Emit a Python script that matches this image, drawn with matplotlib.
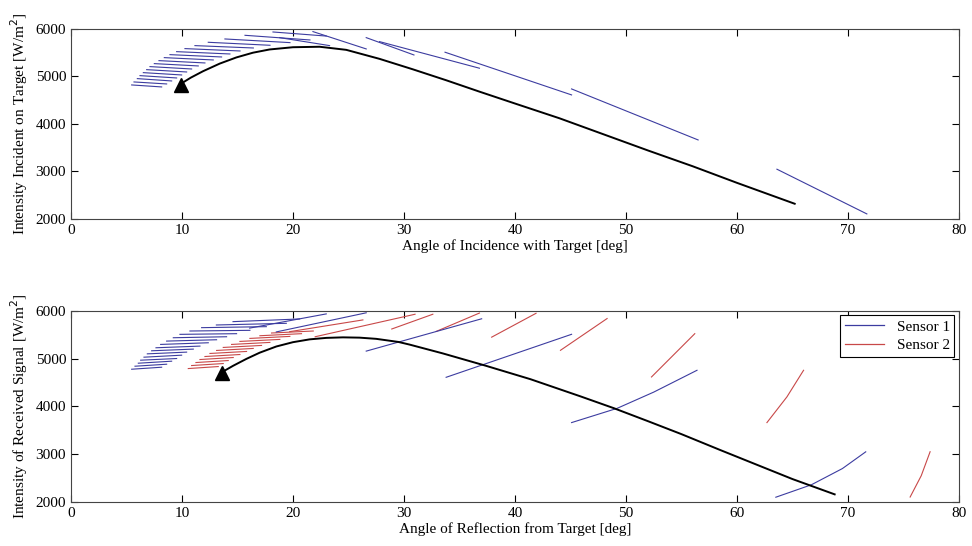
"""two panel intensity vs angle chart"""


import matplotlib
matplotlib.use('Agg')
import matplotlib.pyplot as plt


BLUE = '#3c3ca0'
RED = '#c84848'

# top panel: stacked blue segments on the left (start/end points)
top_fan_x0 = [5.47, 5.68, 5.98, 6.22, 6.52, 6.82, 7.12, 7.51, 7.93, 8.41,
              8.92, 9.52, 10.27, 11.17, 12.37, 13.87, 15.68, 18.2]
top_fan_x1 = [8.17, 8.62, 9.07, 9.52, 9.97, 10.42, 10.87, 11.47, 12.07, 12.82,
              13.57, 14.32, 15.23, 16.43, 17.93, 19.73, 21.53, 23.0]
top_fan_y0 = [4821, 4884, 4954, 5017, 5080, 5143, 5207, 5270, 5333, 5396,
              5459, 5522, 5586, 5649, 5719, 5789, 5866, 5936]
top_fan_y1 = [4779, 4842, 4905, 4968, 5031, 5094, 5157, 5221, 5284, 5347,
              5410, 5473, 5536, 5599, 5656, 5712, 5768, 5850]

# top panel: longer blue segments
top_seg_x = [[18.8, 23.3], [21.8, 26.6], [26.6, 30.9], [27.8, 36.8],
             [33.7, 45.1], [45.1, 56.5], [63.6, 71.7]]
top_seg_y = [[5817, 5649], [5944, 5579], [5817, 5452], [5733, 5173],
             [5510, 4611], [4737, 3663], [3047, 2106]]

# top panel: black trajectory (arrow end first)
top_curve_x = [10.0, 10.8, 11.9, 13.4, 14.9, 16.4, 17.9, 20.0, 22.4, 24.8,
               27.8, 30.8, 33.8, 36.8, 40.0, 44.0, 48.0, 52.0, 56.0, 60.0, 65.2]
top_curve_y = [4860, 4975, 5110, 5270, 5400, 5500, 5568, 5615, 5625, 5560,
               5370, 5150, 4920, 4680, 4430, 4120, 3780, 3440, 3110, 2760, 2320]

# bottom panel: sensor 1 stacked segments
bot_fan1_x0 = [5.47, 5.77, 6.07, 6.28, 6.58, 6.88, 7.27, 7.66, 8.08, 8.62,
               9.22, 9.82, 10.72, 11.77, 13.1, 14.6]
bot_fan1_x1 = [8.17, 8.62, 9.07, 9.52, 9.97, 10.42, 11.02, 11.62, 12.37, 13.12,
               14.02, 14.92, 16.12, 17.6, 19.4, 20.6]
bot_fan1_y0 = [4779, 4842, 4905, 4968, 5031, 5101, 5165, 5228, 5298, 5368,
               5438, 5509, 5579, 5649, 5705, 5775]
bot_fan1_y1 = [4821, 4884, 4947, 5003, 5073, 5137, 5200, 5263, 5333, 5396,
               5459, 5523, 5593, 5670, 5740, 5831]

# bottom panel: sensor 1 longer segments
bot_seg1_x = [[16.1, 23.0], [18.5, 26.6], [26.6, 37.0], [33.8, 45.1],
              [45.1, 49.2, 52.5, 56.4], [63.5, 66.7, 69.5, 71.6]]
bot_seg1_y = [[5640, 5937], [5560, 5960], [5158, 5835], [4610, 5510],
              [3662, 3960, 4300, 4757], [2100, 2360, 2700, 3050]]

# bottom panel: sensor 2 stacked segments
bot_fan2_x0 = [10.57, 10.87, 11.26, 11.62, 12.07, 12.52, 13.12, 13.72, 14.47,
               15.22, 16.12, 17.02, 18.07]
bot_fan2_x1 = [13.27, 13.72, 14.17, 14.62, 15.22, 15.82, 16.42, 17.17, 17.92,
               18.82, 19.72, 20.77, 21.83]
bot_fan2_y0 = [4793, 4856, 4919, 4982, 5045, 5109, 5172, 5235, 5298, 5361,
               5424, 5480, 5537]
bot_fan2_y1 = [4835, 4898, 4961, 5024, 5087, 5151, 5214, 5277, 5340, 5403,
               5466, 5523, 5579]

# bottom panel: sensor 2 longer segments
bot_seg2_x = [[19.7, 26.3], [22.0, 31.0], [28.9, 32.6], [32.9, 36.8],
              [37.9, 41.9], [44.1, 48.3], [52.3, 56.2], [62.7, 64.5, 66.0],
              [75.6, 76.6, 77.4]]
bot_seg2_y = [[5565, 5811], [5459, 5930], [5621, 5930], [5570, 5955],
              [5450, 5950], [5175, 5840], [4617, 5523], [3662, 4200, 4757],
              [2104, 2550, 3052]]

# bottom panel: black trajectory (arrow end first)
bot_curve_x = [13.7, 14.6, 15.8, 17.0, 18.5, 20.0, 21.5, 23.0, 24.5, 26.0,
               27.5, 29.5, 30.5, 33.5, 37.4, 41.4, 45.9, 48.9, 52.0, 55.0,
               58.5, 62.0, 65.0, 68.8]
bot_curve_y = [4730, 4850, 4995, 5125, 5255, 5345, 5404, 5435, 5446, 5440,
               5415, 5350, 5295, 5110, 4850, 4570, 4211, 3964, 3690, 3420,
               3087, 2760, 2480, 2160]

plt.rcParams['font.family'] = ['Liberation Serif', 'DejaVu Serif']
plt.rcParams['font.size'] = 11


def style_axes(ax, x_name, y_name):
    """MATLAB-like frame with inward ticks on all sides"""
    ax.set_xlim(0, 80)
    ax.set_ylim(2000, 6000)
    ax.set_xticks(range(0, 81, 10))
    ax.set_yticks(range(2000, 6001, 1000))
    ax.tick_params(direction='in', top=True, right=True, length=5,
                   labelsize=11, width=0.8)
    for spine in ax.spines.values():
        spine.set_linewidth(0.8)
        spine.set_color('#444444')
    ax.set_xlabel(x_name, fontsize=11, labelpad=2)
    ax.set_ylabel(y_name, fontsize=11, labelpad=4)


fig = plt.figure(figsize=(9.72, 5.46), dpi=100)
ax_top = fig.add_axes([0.073, 0.599, 0.9136, 0.348])
ax_bot = fig.add_axes([0.073, 0.0806, 0.9136, 0.35])

# top panel
for x0, x1, y0, y1 in zip(top_fan_x0, top_fan_x1, top_fan_y0, top_fan_y1):
    ax_top.plot([x0, x1], [y0, y1], color=BLUE, lw=0.8)
for xs, ys in zip(top_seg_x, top_seg_y):
    ax_top.plot(xs, ys, color=BLUE, lw=0.8)
ax_top.plot(top_curve_x, top_curve_y, color='black', lw=1.4)
ax_top.plot(top_curve_x[0] - 0.1, top_curve_y[0] - 30, marker='^',
            color='black', markersize=10, linestyle='none')
style_axes(ax_top, 'Angle of Incidence with Target [deg]',
           'Intensity Incident on Target [W/m$^2$]')

# bottom panel
for x0, x1, y0, y1 in zip(bot_fan2_x0, bot_fan2_x1, bot_fan2_y0, bot_fan2_y1):
    ax_bot.plot([x0, x1], [y0, y1], color=RED, lw=0.8)
for xs, ys in zip(bot_seg2_x, bot_seg2_y):
    ax_bot.plot(xs, ys, color=RED, lw=0.8)
for x0, x1, y0, y1 in zip(bot_fan1_x0, bot_fan1_x1, bot_fan1_y0, bot_fan1_y1):
    ax_bot.plot([x0, x1], [y0, y1], color=BLUE, lw=0.8)
for xs, ys in zip(bot_seg1_x, bot_seg1_y):
    ax_bot.plot(xs, ys, color=BLUE, lw=0.8)
ax_bot.plot(bot_curve_x, bot_curve_y, color='black', lw=1.4)
ax_bot.plot(bot_curve_x[0] - 0.1, bot_curve_y[0] - 30, marker='^',
            color='black', markersize=10, linestyle='none')
style_axes(ax_bot, 'Angle of Reflection from Target [deg]',
           'Intensity of Received Signal [W/m$^2$]')

h1, = ax_bot.plot([], [], color=BLUE, lw=0.9, label='Sensor 1')
h2, = ax_bot.plot([], [], color=RED, lw=0.9, label='Sensor 2')
leg = ax_bot.legend(handles=[h1, h2], loc='upper right', fontsize=11,
                    fancybox=False, framealpha=1, edgecolor='black',
                    borderaxespad=0.3, handlelength=2.6, borderpad=0.3,
                    labelspacing=0.3)
leg.get_frame().set_linewidth(0.8)

fig.savefig('out.png', dpi=100)
